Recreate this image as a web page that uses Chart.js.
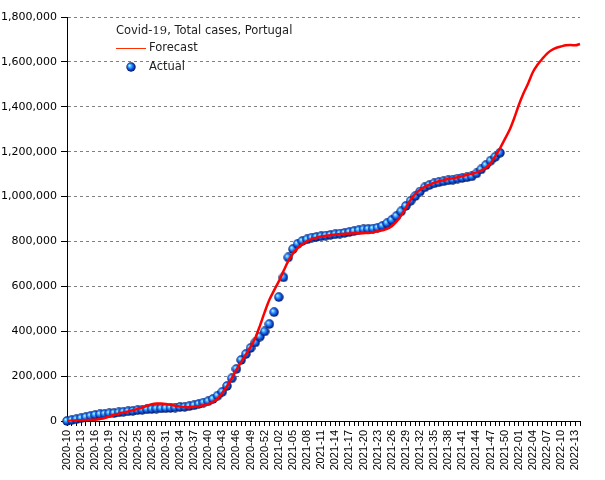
<!DOCTYPE html>
<html>
<head>
<meta charset="utf-8">
<script src="https://cdn.jsdelivr.net/npm/chart.js@4.4.0/dist/chart.umd.min.js"></script>
<style>
  html, body { margin: 0; padding: 0; background: #fff; }
  canvas { display: block; }
</style>
</head>
<body>
<canvas id="covidChart" width="605" height="480"></canvas>
<script>
// Semanas ISO (año-semana)
const weekLabels = [
  '2020-10','2020-11','2020-12','2020-13','2020-14','2020-15','2020-16','2020-17','2020-18','2020-19',
  '2020-20','2020-21','2020-22','2020-23','2020-24','2020-25','2020-26','2020-27','2020-28','2020-29',
  '2020-30','2020-31','2020-32','2020-33','2020-34','2020-35','2020-36','2020-37','2020-38','2020-39',
  '2020-40','2020-41','2020-42','2020-43','2020-44','2020-45','2020-46','2020-47','2020-48','2020-49',
  '2020-50','2020-51','2020-52','2020-53','2021-01','2021-02','2021-03','2021-04','2021-05','2021-06',
  '2021-07','2021-08','2021-09','2021-10','2021-11','2021-12','2021-13','2021-14','2021-15','2021-16',
  '2021-17','2021-18','2021-19','2021-20','2021-21','2021-22','2021-23','2021-24','2021-25','2021-26',
  '2021-27','2021-28','2021-29','2021-30','2021-31','2021-32','2021-33','2021-34','2021-35','2021-36',
  '2021-37','2021-38','2021-39','2021-40','2021-41','2021-42','2021-43','2021-44','2021-45','2021-46',
  '2021-47','2021-48','2021-49','2021-50','2021-51','2021-52','2022-01','2022-02','2022-03','2022-04',
  '2022-05','2022-06','2022-07','2022-08','2022-09','2022-10','2022-11','2022-12','2022-13','2022-14'
];

// Casos totales reales (hasta 2021-49)
const actualCases = [
  0, 4000, 8000, 12000, 17000, 22000, 27000, 30000, 32000, 34000,
  35000, 38000, 41000, 43000, 45000, 48000, 50000, 52000, 53000, 55000,
  56000, 57000, 58000, 60000, 62000, 63000, 66000, 70000, 76000, 82000,
  88000, 98000, 113000, 130000, 156000, 190000, 232000, 272000, 298000, 325000,
  350000, 376000, 399000, 432000, 485000, 552000, 640000, 729000, 766000, 789000,
  802000, 809000, 817000, 820000, 823000, 826000, 829000, 832000, 835000, 838000,
  842000, 846000, 850000, 854000, 855000, 857000, 861000, 869000, 881000, 895000,
  913000, 934000, 958000, 981000, 1002000, 1022000, 1041000, 1051000, 1059000, 1064000,
  1068000, 1072000, 1075000, 1080000, 1083000, 1086000, 1090000, 1103000, 1121000, 1140000,
  1160000, 1177000, 1195000
];

// Previsión
const forecastCases = [
  0, 1000, 2000, 3000, 4000, 5000, 6000, 9000, 13000, 20000,
  28000, 33000, 38000, 43000, 48000, 54000, 60000, 68000, 75000, 78000,
  78000, 76000, 72000, 68000, 64000, 62000, 61000, 63000, 66000, 70000,
  75000, 85000, 100000, 125000, 155000, 190000, 228000, 262000, 296000, 330000,
  370000, 425000, 485000, 540000, 582000, 622000, 668000, 712000, 745000, 770000,
  787000, 800000, 810000, 817000, 822000, 825000, 828000, 831000, 833000, 834000,
  835000, 836000, 836000, 837000, 838000, 841000, 845000, 850000, 856000, 868000,
  888000, 915000, 950000, 985000, 1012000, 1030000, 1043000, 1053000, 1062000, 1068000,
  1073000, 1078000, 1082000, 1086000, 1091000, 1096000, 1101000, 1108000, 1115000, 1128000,
  1148000, 1180000, 1215000, 1255000, 1295000, 1348000, 1408000, 1460000, 1505000, 1555000,
  1588000, 1614000, 1637000, 1653000, 1663000, 1669000, 1674000, 1675000, 1674000, 1680000
];

const legendTitle = ['Covid-', '19', ', Total cases, Portugal'];
const legendLabels = ['Forecast', 'Actual'];

// bolita azul con brillo
function makeBall() {
  const c = document.createElement('canvas');
  c.width = 10;
  c.height = 10;
  const g = c.getContext('2d');
  const grad = g.createRadialGradient(3.4, 3.4, 0.3, 5, 5, 5);
  grad.addColorStop(0, '#c8f4ff');
  grad.addColorStop(0.25, '#45b4ff');
  grad.addColorStop(0.6, '#1050e0');
  grad.addColorStop(1, '#000838');
  g.fillStyle = grad;
  g.beginPath();
  g.arc(5, 5, 4.7, 0, Math.PI * 2);
  g.fill();
  return c;
}
const ball = makeBall();

// leyenda dibujada a mano (el "19" va en serif)
const legendPlugin = {
  id: 'customLegend',
  afterDraw(chart) {
    const ctx = chart.ctx;
    ctx.save();
    ctx.fillStyle = '#222';
    ctx.textBaseline = 'middle';
    let x = 116;
    const y = 31;
    ctx.font = '11.5px "DejaVu Sans"';
    ctx.fillText(legendTitle[0], x, y);
    x += ctx.measureText(legendTitle[0]).width;
    ctx.font = '11.5px "DejaVu Serif"';
    ctx.fillText(legendTitle[1], x, y);
    x += ctx.measureText(legendTitle[1]).width;
    ctx.font = '11.5px "DejaVu Sans"';
    ctx.fillText(legendTitle[2], x, y);

    ctx.strokeStyle = '#ff3000';
    ctx.lineWidth = 1;
    ctx.beginPath();
    ctx.moveTo(116, 48.5);
    ctx.lineTo(146, 48.5);
    ctx.stroke();
    ctx.fillText(legendLabels[0], 149, 48);

    ctx.drawImage(ball, 126, 62);
    ctx.fillText(legendLabels[1], 149, 67);
    ctx.restore();
  }
};

const ctx = document.getElementById('covidChart').getContext('2d');

const covidChart = new Chart(ctx, {
  type: 'line',
  data: {
    labels: weekLabels,
    datasets: [{
      label: legendLabels[0],
      data: forecastCases,
      borderColor: '#ff0000',
      borderWidth: 2.5,
      pointRadius: 0,
      cubicInterpolationMode: 'monotone',
      fill: false,
      order: 0,
    }, {
      label: legendLabels[1],
      data: actualCases,
      showLine: false,
      pointStyle: ball,
      pointRadius: 5,
      clip: false,
      order: 1,
    }],
  },
  options: {
    responsive: false,
    animation: false,
    layout: {
      padding: { top: 17, right: 25, left: 0, bottom: 0 }
    },
    plugins: {
      legend: { display: false },
      tooltip: { enabled: false },
    },
    scales: {
      x: {
        offset: false,
        afterFit: (scale) => { scale.height = 59; },
        grid: {
          drawOnChartArea: false,
          drawTicks: true,
          tickLength: 5,
          tickColor: '#000',
        },
        border: { display: true, color: '#000', width: 1 },
        ticks: {
          autoSkip: false,
          maxRotation: 90,
          minRotation: 90,
          padding: 4,
          color: '#000',
          font: { family: 'Liberation Sans', size: 11 },
          callback: function (val, index) {
            return index % 3 === 0 ? this.getLabelForValue(val) : '';
          },
        },
      },
      y: {
        min: 0,
        max: 1800000,
        afterFit: (scale) => { scale.width = 67; },
        grid: {
          color: '#808080',
          tickColor: '#000',
          tickLength: 6,
        },
        // en v4 el "dash" del borde se aplica a las líneas de la rejilla
        border: { display: true, color: '#000', width: 1, dash: [3, 3] },
        ticks: {
          stepSize: 200000,
          padding: 4,
          color: '#000',
          font: { family: 'DejaVu Sans', size: 11 },
          callback: (v) => v.toLocaleString('en-US'),
        },
      },
    },
  },
  plugins: [legendPlugin],
});
</script>
</body>
</html>
